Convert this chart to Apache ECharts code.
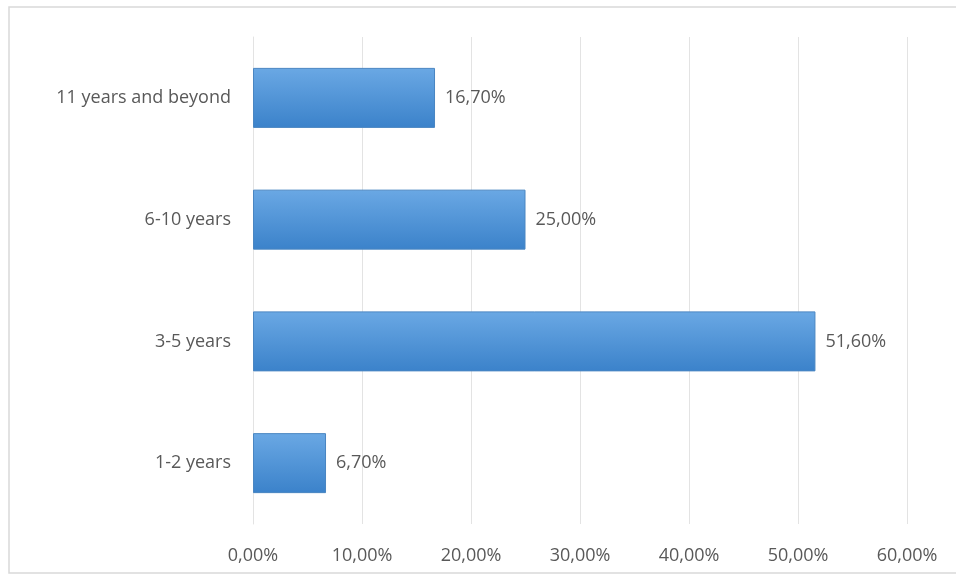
<!DOCTYPE html>
<html>
<head>
<meta charset="utf-8">
<script src="https://cdn.jsdelivr.net/npm/echarts@6/dist/echarts.min.js"></script>
<style>
  html, body { margin: 0; padding: 0; background: #fff; }
  #chart { width: 956px; height: 582px; }
</style>
</head>
<body>
<div id="chart"></div>
<script>
// data, bottom to top
const categories = ['1-2 years', '3-5 years', '6-10 years', '11 years and beyond'];
const shares = [6.7, 51.6, 25.0, 16.7];
const xTicks = [0, 10, 20, 30, 40, 50, 60];

const pct = v => v.toFixed(2).replace('.', ',') + '%';
const textColor = '#595959';
const font = 'Open Sans';

const myChart = echarts.init(document.getElementById('chart'));
myChart.setOption({
    animation: false,
    graphic: [{
        type: 'rect',
        shape: { x: 9, y: 7, width: 960, height: 566 },
        style: { fill: 'none', stroke: '#d9d9d9', lineWidth: 1.5 },
        silent: true
    }],
    grid: { left: 253, right: 49, top: 37, bottom: 58 },
    xAxis: {
        type: 'value',
        min: xTicks[0],
        max: xTicks[xTicks.length - 1],
        interval: 10,
        axisLabel: {
            formatter: v => pct(v),
            color: textColor,
            fontFamily: font,
            fontSize: 18,
            margin: 23
        },
        axisLine: { show: false },
        axisTick: { show: false },
        splitLine: { lineStyle: { color: '#e3e3e3', width: 1 } }
    },
    yAxis: {
        type: 'category',
        data: categories,
        axisLabel: {
            color: textColor,
            fontFamily: font,
            fontSize: 18,
            margin: 22
        },
        axisLine: { show: true, lineStyle: { color: '#e3e3e3' } },
        axisTick: { show: false }
    },
    series: [{
        type: 'bar',
        data: shares,
        barWidth: 60,
        itemStyle: {
            color: new echarts.graphic.LinearGradient(0, 0, 0, 1, [
                { offset: 0, color: '#6aa8e4' },
                { offset: 1, color: '#3b82ca' }
            ]),
            borderColor: '#4a86c2',
            borderWidth: 1
        },
        label: {
            show: true,
            position: 'right',
            distance: 10,
            formatter: p => pct(p.value),
            color: textColor,
            fontFamily: font,
            fontSize: 18
        }
    }]
});
</script>
</body>
</html>
